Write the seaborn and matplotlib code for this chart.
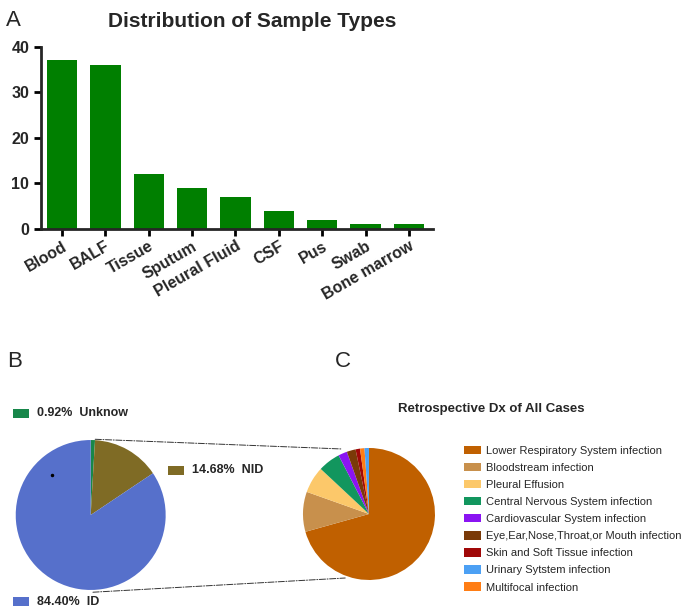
import numpy as np
import pandas as pd
import matplotlib.pyplot as plt
import seaborn as sns
from matplotlib.patches import ConnectionPatch, Patch

# ---- data ----
sample_types = ['Blood', 'BALF', 'Tissue', 'Sputum', 'Pleural Fluid', 'CSF', 'Pus', 'Swab', 'Bone marrow']
sample_counts = [37, 36, 12, 9, 7, 4, 2, 1, 1]

dx_groups = ['Unknow', 'NID', 'ID']
dx_pct = [0.92, 14.68, 84.40]
dx_colors = ['#17874a', '#7f6b25', '#5670cb']

# order as drawn clockwise from 12 o'clock
retro_labels = ['Lower Respiratory System infection', 'Bloodstream infection', 'Pleural Effusion',
                'Central Nervous System infection', 'Cardiovascular System infection',
                'Eye,Ear,Nose,Throat,or Mouth infection', 'Skin and Soft Tissue infection',
                'Multifocal infection', 'Urinary Sytstem infection']
retro_counts = [65, 9, 6, 5, 2, 2, 1, 1, 1]
retro_colors = ['#c06000', '#c8904c', '#fcc86a', '#12965e', '#8a14f2',
                '#7a3a08', '#a00808', '#ff7d14', '#4ca0f4']
legend_order = [0, 1, 2, 3, 4, 5, 6, 8, 7]

sns.set_style('ticks')
plt.rcParams['font.family'] = ['Liberation Sans', 'DejaVu Sans']

fig = plt.figure(figsize=(6.85, 6.12), dpi=100)

# ---- A: bar chart ----
ax = fig.add_axes([0.06, 0.626, 0.572, 0.298])
df = pd.DataFrame({'type': sample_types, 'count': sample_counts})
sns.barplot(data=df, x='type', y='count', color='#007f00', saturation=1, width=0.7, ax=ax)
for p in ax.patches:
    p.set_edgecolor('none')
ax.set_xlim(-0.48, 8.55)
ax.set_ylim(0, 40)
ax.set_yticks([0, 10, 20, 30, 40])
ax.set_xlabel('')
ax.set_ylabel('')
for s in ['left', 'bottom']:
    ax.spines[s].set_linewidth(2)
sns.despine(ax=ax)
ax.tick_params(width=2, length=5, color='black')
ax.tick_params(axis='x', pad=2)
ax.set_xticks(range(len(sample_types)))
ax.set_xticklabels(sample_types, rotation=30, ha='right', rotation_mode='anchor',
                   fontsize=11.5, fontweight='bold')
ax.set_yticklabels([str(v) for v in [0, 10, 20, 30, 40]], fontsize=11.5, fontweight='bold')
ax.set_title('Distribution of Sample Types', fontsize=15, fontweight='bold', pad=14, x=0.54)
fig.text(0.008, 0.958, 'A', fontsize=16)

# ---- B: pie ----
axb = fig.add_axes([0.0229, 0.036, 0.219, 0.245])
axb.pie(dx_pct, colors=dx_colors, startangle=90, counterclock=False, radius=1,
        wedgeprops=dict(linewidth=0))
axb.plot([-0.51], [0.53], marker='o', markersize=1.5, color='black')
axb.set_xlim(-1, 1)
axb.set_ylim(-1, 1)
axb.set_aspect('equal')
fig.text(0.011, 0.40, 'B', fontsize=16)

bx = [(0.019, 0.317), (0.245, 0.224), (0.019, 0.0095)]
for (x0, y0), lab, pct, col in zip(bx, dx_groups, dx_pct, dx_colors):
    fig.patches.append(plt.Rectangle((x0, y0), 0.023, 0.015, transform=fig.transFigure,
                                     facecolor=col, edgecolor='none'))
    fig.text(x0 + 0.035, y0 + 0.0075, f'{pct:.2f}%  {lab}', fontsize=9, fontweight='bold',
             va='center')

# ---- C: pie ----
axc = fig.add_axes([0.4423, 0.0523, 0.1927, 0.2157])
wedges, _ = axc.pie(retro_counts, colors=retro_colors, startangle=90, counterclock=False,
                    radius=1, wedgeprops=dict(linewidth=0))
axc.set_xlim(-1, 1)
axc.set_ylim(-1, 1)
axc.set_aspect('equal')
fig.text(0.489, 0.40, 'C', fontsize=16)
fig.text(0.717, 0.332, 'Retrospective Dx of All Cases', fontsize=9.5, fontweight='bold',
         ha='center', va='center')

handles = [Patch(facecolor=retro_colors[i], edgecolor='none') for i in legend_order]
labels = [retro_labels[i] for i in legend_order]
fig.legend(handles, labels, loc='upper left', bbox_to_anchor=(0.678, 0.272), frameon=False,
           fontsize=8, handlelength=1.5, handleheight=0.8, handletextpad=0.45,
           labelspacing=0.63, borderaxespad=0, borderpad=0)

# ---- connecting lines ----
for pb, pc in [((0.06, 1.01), (-0.41, 0.985)), ((0.03, -1.03), (-0.36, -0.97))]:
    con = ConnectionPatch(xyA=pb, coordsA=axb.transData, xyB=pc, coordsB=axc.transData,
                          linestyle='-.', linewidth=0.7, color='#333333')
    fig.add_artist(con)

fig.savefig('out.png', dpi=100)
